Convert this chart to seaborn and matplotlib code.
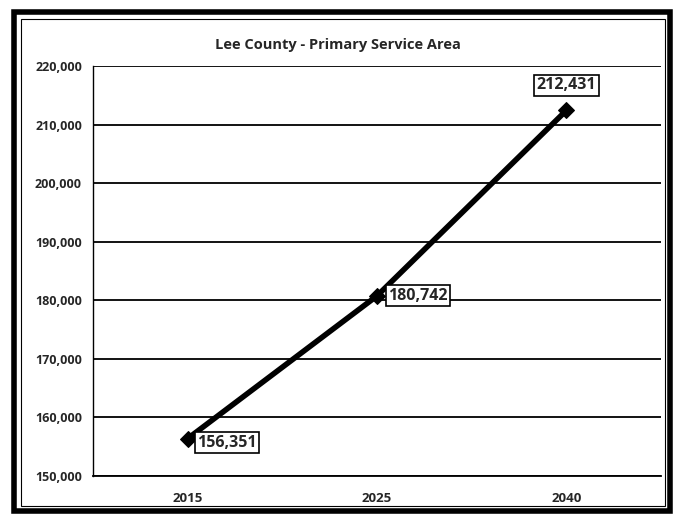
import pandas as pd
import matplotlib.pyplot as plt
import seaborn as sns
from matplotlib.patches import Rectangle

# --- data ---
years = ["2015", "2025", "2040"]
population = [156351, 180742, 212431]
y_ticks = [150000, 160000, 170000, 180000, 190000, 200000, 210000, 220000]

df = pd.DataFrame({"Year": years, "Population": population})
df["pos"] = range(len(years))

sns.set_style("white")
plt.rcParams["font.family"] = ["Open Sans", "DejaVu Sans"]

fig = plt.figure(figsize=(6.76, 5.16), dpi=100)
ax = fig.add_axes([0.1376, 0.078, 0.978 - 0.1376, 0.872 - 0.078])

sns.lineplot(data=df, x="pos", y="Population", ax=ax, color="black",
             linewidth=4, marker="D", markersize=8, markeredgecolor="black")

ax.set_xlim(-0.5, 2.5)
ax.set_ylim(150000, 220000)
ax.set_yticks(y_ticks)
ax.set_yticklabels([f"{v:,}" for v in y_ticks], fontsize=9, fontweight="bold")
ax.set_xticks(df["pos"])
ax.set_xticklabels(years, fontsize=9.5, fontweight="bold")
ax.set_xticks([-0.5, 0.5, 1.5, 2.5], minor=True)
ax.tick_params(axis="x", which="major", length=0, pad=12)
ax.tick_params(axis="x", which="minor", length=5, width=1, color="black", direction="out")
ax.tick_params(axis="y", length=5, width=1, color="black", direction="out", pad=3)
ax.set_xlabel("")
ax.set_ylabel("")

ax.yaxis.grid(True, color="black", linewidth=1.3)
ax.set_axisbelow(True)
for side in ["top", "right"]:
    ax.spines[side].set_visible(False)
ax.spines["left"].set_color("black")
ax.spines["left"].set_linewidth(1)
ax.spines["bottom"].set_color("black")
ax.spines["bottom"].set_linewidth(1.3)

# data labels in boxes
box = dict(boxstyle="square,pad=0.15", facecolor="white", edgecolor="black", linewidth=1.2)
offsets = [(7, -3), (8, 0), (0, 18)]
aligns = [("left", "center"), ("left", "center"), ("center", "center")]
for i, v in enumerate(population):
    ax.annotate(f"{v:,}", (df["pos"][i], v), xytext=offsets[i], textcoords="offset points",
                ha=aligns[i][0], va=aligns[i][1], fontsize=11.5, fontweight="bold", bbox=box)

fig.text(0.5, 0.912, "Lee County - Primary Service Area", ha="center", va="center",
         fontsize=10.5, fontweight="bold")

# scanned chart frame: thick outer line and thin inner line
fig.patches.append(Rectangle((14 / 676, 1 - 511 / 516), 656 / 676, 499 / 516,
                             transform=fig.transFigure, fill=False,
                             edgecolor="black", linewidth=4))
fig.patches.append(Rectangle((21 / 676, 1 - 506 / 516), 644 / 676, 487 / 516,
                             transform=fig.transFigure, fill=False,
                             edgecolor="black", linewidth=0.8))

fig.savefig("out.png", dpi=100)
